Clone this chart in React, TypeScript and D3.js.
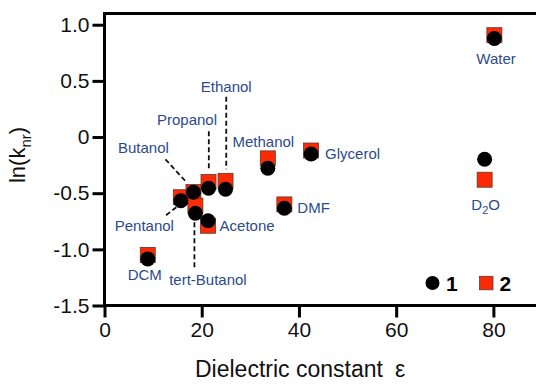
import * as d3 from "d3";
import React, { useEffect, useRef } from "react";

const solvents = ["DCM", "Pentanol", "Butanol", "tert-Butanol", "Propanol", "Acetone", "Ethanol", "Methanol", "DMF", "Glycerol", "D2O", "Water"];
const epsilon = [8.9, 15.7, 18.3, 18.7, 21.4, 21.3, 24.9, 33.6, 37.0, 42.5, 78.2, 80.2];
const lnk1 = [-1.085, -0.567, -0.492, -0.679, -0.456, -0.745, -0.465, -0.278, -0.634, -0.151, -0.198, 0.878];
const lnk2 = [-1.05, -0.536, -0.49, -0.611, -0.4, -0.79, -0.39, -0.19, -0.6, -0.12, -0.38, 0.907];
const xTicks = [0, 20, 40, 60, 80];
const yTicks = [-1.5, -1.0, -0.5, 0, 0.5, 1.0];

// label placement relative to the circle of each solvent: [anchor, dx, dy, leader]
const labelPos: Record<string, [string, number, number, number[] | null]> = {
  DCM: ["middle", -3, 21.5, null],
  Pentanol: ["middle", -36.5, 30.5, [-4.5, 6.5, -16, 15.5]],
  Butanol: ["middle", -50, -39, [-28, -33, -7, -10]],
  "tert-Butanol": ["middle", 12.5, 72, [-1, 9, -1, 57]],
  Propanol: ["middle", -21.5, -63.5, [0.3, -57, 0.3, -18]],
  Acetone: ["start", 11.5, 10, null],
  Ethanol: ["middle", 0.7, -97, [0.7, -92.5, 0.7, -20]],
  Methanol: ["middle", -4.5, -21, null],
  DMF: ["start", 13, 4.5, null],
  Glycerol: ["start", 14, 5.5, null],
  D2O: ["middle", 1, 51, null],
  Water: ["middle", 1.7, 25.5, null],
};

const W = 536;
const H = 387;
const RED = "#fd2b03";
const BLUE = "#2c4a8d";
const FONT = "'Liberation Sans', Arial, Helvetica, sans-serif";

const App: React.FC = () => {
  const ref = useRef<SVGSVGElement>(null);

  useEffect(() => {
    if (!ref.current) return;
    const svg = d3.select(ref.current);
    svg.selectAll("*").remove();

    const x = d3.scaleLinear().domain([0, 90]).range([104.5, 542]);
    const y = d3.scaleLinear().domain([-1.5, 1.1]).range([305.5, 13.5]);
    const [x0, x1] = x.range();
    const [yb, yt] = y.range();

    // axes
    const gx = svg
      .append("g")
      .attr("transform", `translate(0,${yb})`)
      .call(d3.axisBottom(x).tickValues(xTicks).tickSize(12).tickPadding(5).tickSizeOuter(0));
    const gy = svg
      .append("g")
      .attr("transform", `translate(${x0},0)`)
      .call(
        d3
          .axisLeft(y)
          .tickValues(yTicks)
          .tickSize(12)
          .tickPadding(3)
          .tickSizeOuter(0)
          .tickFormat((d) => (+d === 0 ? "0" : (+d).toFixed(1)))
      );
    [gx, gy].forEach((g) => {
      g.select(".domain").remove();
      g.selectAll("line").attr("stroke", "#000").attr("stroke-width", 3);
      g.selectAll("text")
        .attr("fill", "#111")
        .style("font-size", "21px")
        .style("font-family", FONT);
    });

    // frame
    svg
      .append("path")
      .attr("d", `M${x1},${yt}H${x0}V${yb}H${x1}`)
      .attr("fill", "none")
      .attr("stroke", "#000")
      .attr("stroke-width", 3);

    // axis titles
    const xt = svg
      .append("text")
      .attr("x", 195)
      .attr("y", 377)
      .attr("fill", "#111")
      .style("font-size", "23px")
      .style("font-family", FONT);
    xt.append("tspan").text("Dielectric constant");
    xt.append("tspan").attr("x", 395).text("ε");

    const yl = svg
      .append("text")
      .attr("transform", "translate(25,155) rotate(-90)")
      .attr("text-anchor", "middle")
      .attr("fill", "#111")
      .style("font-size", "22px")
      .style("font-family", FONT);
    yl.append("tspan").text("ln(k");
    yl.append("tspan").attr("dy", 6).style("font-size", "15px").text("nr");
    yl.append("tspan").attr("dy", -6).text(")");

    const idx = d3.range(solvents.length);

    // leader lines
    svg
      .append("g")
      .selectAll("line")
      .data(idx.filter((i) => labelPos[solvents[i]][3]))
      .enter()
      .append("line")
      .attr("x1", (i) => x(epsilon[i]) + labelPos[solvents[i]][3]![0])
      .attr("y1", (i) => y(lnk1[i]) + labelPos[solvents[i]][3]![1])
      .attr("x2", (i) => x(epsilon[i]) + labelPos[solvents[i]][3]![2])
      .attr("y2", (i) => y(lnk1[i]) + labelPos[solvents[i]][3]![3])
      .attr("stroke", "#111")
      .attr("stroke-width", 1.8)
      .attr("stroke-dasharray", "5,3");

    // series 2 squares
    const s = 15;
    svg
      .append("g")
      .selectAll("rect")
      .data(idx)
      .enter()
      .append("rect")
      .attr("x", (i) => x(epsilon[i]) - s / 2)
      .attr("y", (i) => y(lnk2[i]) - s / 2)
      .attr("width", s)
      .attr("height", s)
      .attr("fill", RED)
      .attr("stroke", "#5a3a30")
      .attr("stroke-width", 0.8);

    // series 1 circles
    svg
      .append("g")
      .selectAll("circle")
      .data(idx)
      .enter()
      .append("circle")
      .attr("cx", (i) => x(epsilon[i]))
      .attr("cy", (i) => y(lnk1[i]))
      .attr("r", 7.5)
      .attr("fill", "#000");

    // solvent labels
    const labels = svg
      .append("g")
      .selectAll("text")
      .data(idx)
      .enter()
      .append("text")
      .attr("x", (i) => x(epsilon[i]) + labelPos[solvents[i]][1])
      .attr("y", (i) => y(lnk1[i]) + labelPos[solvents[i]][2])
      .attr("text-anchor", (i) => labelPos[solvents[i]][0])
      .attr("fill", BLUE)
      .style("font-size", "15px")
      .style("font-family", FONT);
    labels.each(function (i) {
      const t = d3.select(this);
      if (solvents[i] === "D2O") {
        t.append("tspan").text("D");
        t.append("tspan").attr("dy", 4).style("font-size", "11px").text("2");
        t.append("tspan").attr("dy", -4).text("O");
      } else {
        t.text(solvents[i]);
      }
    });

    // legend
    const lg = svg.append("g");
    lg.append("circle").attr("cx", 432.5).attr("cy", 283).attr("r", 7).attr("fill", "#000");
    lg.append("text")
      .attr("x", 446).attr("y", 290.5)
      .style("font-size", "21px").style("font-weight", "bold").style("font-family", FONT)
      .text("1");
    lg.append("rect")
      .attr("x", 479.5).attr("y", 276.3).attr("width", 13.5).attr("height", 13.5)
      .attr("fill", RED).attr("stroke", "#5a3a30").attr("stroke-width", 0.8);
    lg.append("text")
      .attr("x", 499.5).attr("y", 290.5)
      .style("font-size", "21px").style("font-weight", "bold").style("font-family", FONT)
      .text("2");
  }, []);

  return (
    <svg
      ref={ref}
      width={W}
      height={H}
      style={{ position: "absolute", left: 0, top: 0, background: "#fff" }}
    ></svg>
  );
};

export default App;
